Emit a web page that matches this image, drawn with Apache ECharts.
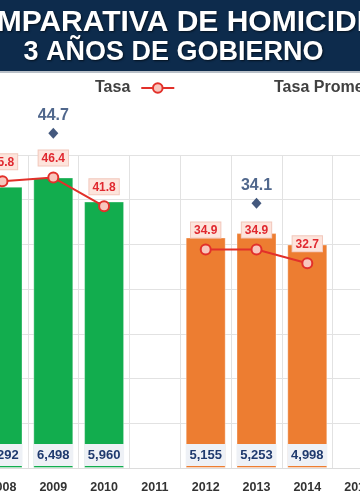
<!DOCTYPE html>
<html>
<head>
<meta charset="utf-8">
<script src="https://cdn.jsdelivr.net/npm/echarts@6/dist/echarts.min.js"></script>
<style>
html,body{margin:0;padding:0;background:#fff;}
#chart{width:360px;height:501px;}
</style>
</head>
<body>
<div id="chart"></div>
<script>
var categories = ['2008','2009','2010','2011','2012','2013','2014','2015'];
var homicidios = [6292, 6498, 5960, null, 5155, 5253, 4998, null];
var tasa = [45.8, 46.4, 41.8, null, 34.9, 34.9, 32.7, null];
var tasaPromedio = [null, 44.7, null, null, null, 34.1, null, null];
var titleLine1 = 'COMPARATIVA DE HOMICIDIOS';
var titleLine2 = '3 AÑOS DE GOBIERNO';

var FONT = '"Liberation Sans", Arial, sans-serif';
var chart = echarts.init(document.getElementById('chart'), null, {renderer: 'canvas'});

function fmt(v) {
  return String(v).replace(/\B(?=(\d{3})+(?!\d))/g, ',');
}

var legendText = {color: '#404040', fontSize: 16, fontWeight: 'bold', fontFamily: FONT, padding: [0, 6, 0, 0]};

var option = {
  backgroundColor: '#ffffff',
  animation: false,
  graphic: [
    {type: 'rect', left: 0, top: 0, shape: {width: 360, height: 71}, style: {fill: '#0d2b4c'}, z: 10},
    {type: 'rect', left: 0, top: 71, shape: {width: 360, height: 2}, style: {fill: '#b9c0c8'}, z: 10},
    {type: 'text', x: 180, y: 23, z: 11,
      style: {text: titleLine1, fill: '#ffffff', font: 'bold 30px ' + FONT, align: 'center', verticalAlign: 'middle',
        textShadowColor: 'rgba(0,0,0,0.6)', textShadowBlur: 2, textShadowOffsetX: 1, textShadowOffsetY: 1}},
    {type: 'text', x: 173.5, y: 53, z: 11,
      style: {text: titleLine2, fill: '#ffffff', font: 'bold 27px ' + FONT, align: 'center', verticalAlign: 'middle',
        textShadowColor: 'rgba(0,0,0,0.6)', textShadowBlur: 2, textShadowOffsetX: 1, textShadowOffsetY: 1}}
  ],
  legend: [
    {data: ['Tasa'], left: 95, top: 80, padding: 0, align: 'right', itemWidth: 33, itemHeight: 12, textStyle: legendText},
    {data: ['Tasa Promedio'], left: 274, top: 80, padding: 0, align: 'right', itemWidth: 33, itemHeight: 12, textStyle: legendText}
  ],
  grid: {left: -22.9, right: -23.5, top: 155, bottom: 33, containLabel: false, outerBoundsMode: 'none'},
  xAxis: {
    type: 'category',
    data: categories,
    boundaryGap: true,
    axisLine: {show: true, lineStyle: {color: '#dcdcdc', width: 1}},
    axisTick: {show: false},
    splitLine: {show: true, lineStyle: {color: '#e2e2e2', width: 1}},
    axisLabel: {interval: 0, margin: 13, color: '#333333', fontSize: 12.5, fontWeight: 'bold', fontFamily: FONT}
  },
  yAxis: [
    {type: 'value', min: 0, max: 7000, interval: 1000, axisLabel: {show: false}, axisLine: {show: false}, axisTick: {show: false},
      splitLine: {show: true, lineStyle: {color: '#e2e2e2', width: 1}}},
    {type: 'value', min: 0, max: 50, show: false, splitLine: {show: false}},
    {type: 'value', min: -6, max: 41.4, show: false, splitLine: {show: false}}
  ],
  series: [
    {
      name: 'Homicidios',
      type: 'bar',
      data: homicidios,
      barWidth: 40,
      itemStyle: {
        color: function (p) { return Number(categories[p.dataIndex]) < 2011 ? '#12ad4e' : '#ed7d31'; },
        borderColor: 'rgba(255,255,255,0.35)',
        borderWidth: 1
      },
      label: {
        show: true,
        position: 'insideBottom',
        distance: 2,
        formatter: function (p) { return fmt(p.value); },
        color: '#1f3a6e',
        fontSize: 13,
        fontWeight: 'bold',
        fontFamily: FONT,
        backgroundColor: '#eef1f6',
        width: 34,
        align: 'center',
        lineHeight: 14,
        padding: [4, 3]
      },
      z: 2
    },
    {
      name: 'Tasa',
      type: 'line',
      yAxisIndex: 1,
      data: tasa,
      connectNulls: false,
      symbol: 'circle',
      symbolSize: 10,
      lineStyle: {color: '#e2302a', width: 2},
      itemStyle: {color: '#f8c6bd', borderColor: '#e2302a', borderWidth: 2},
      label: {
        show: true,
        position: 'top',
        distance: 6,
        color: '#e0282f',
        fontSize: 12,
        fontWeight: 'bold',
        fontFamily: FONT,
        backgroundColor: '#fde4dc',
        borderColor: '#f2c8bc',
        borderWidth: 1,
        padding: [2, 3, 1, 3],
        formatter: function (p) { return p.value.toFixed(1); }
      },
      z: 5
    },
    {
      name: 'Tasa Promedio',
      type: 'scatter',
      yAxisIndex: 2,
      data: tasaPromedio,
      clip: false,
      symbol: 'diamond',
      symbolSize: [10, 11],
      itemStyle: {color: '#15305e'},
      label: {
        show: true,
        position: 'top',
        distance: 4,
        color: '#24416f',
        fontSize: 16,
        fontWeight: 'bold',
        fontFamily: FONT,
        formatter: function (p) { return p.value.toFixed(1); }
      },
      z: 6
    }
  ]
};
chart.setOption(option);
</script>
</body>
</html>
